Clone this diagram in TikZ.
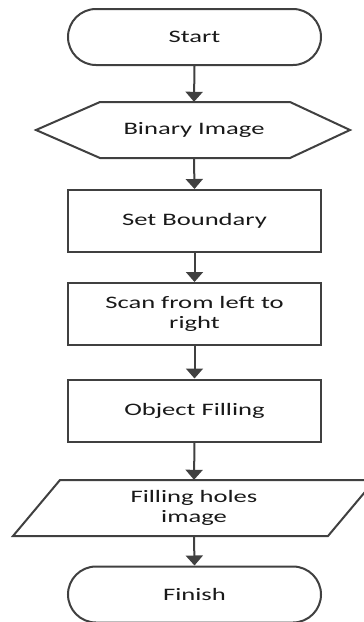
\documentclass[tikz,border=0pt]{standalone}
\usepackage{fontspec}
\newfontfamily\flowfont[FakeStretch=1.52]{Carlito}
\usetikzlibrary{arrows.meta,shapes.misc}
\begin{document}
\begin{tikzpicture}[x=1pt,y=-1pt,
  outline/.style={draw=black!75,line width=2pt,line join=miter},
  txt/.style={font=\flowfont\fontsize{17.5}{20}\selectfont,text=black!90,align=center,inner sep=0pt},
  term/.style={outline,txt,rounded rectangle,rounded rectangle arc length=180,minimum width=253pt,minimum height=56pt},
  procbox/.style={outline,txt,rectangle,minimum width=253pt,minimum height=62pt},
  plain/.style={txt,rectangle,minimum height=56pt,minimum width=180pt},
  flow/.style={draw=black!75,line width=2pt,-{Triangle[length=10pt,width=17pt]}}
]
\useasboundingbox (0,0) rectangle (364,622);
\node[term] (start) at (194.5,37) {Start};
\node[plain] (bin) at (194,130) {Binary Image};
\draw[outline] (100,102) -- (290,102) -- (350,130) -- (290,158) -- (100,158) -- (36,130) -- cycle;
\node[procbox] (setb) at (194.5,221) {Set Boundary};
\node[procbox] (scan) at (194.5,314) {Scan from left to\\right};
\node[procbox] (obj) at (194.5,410.5) {Object Filling};
\node[plain] (holes) at (194,508) {Filling holes\\image};
\draw[outline] (60,480) -- (375,480) -- (328,536) -- (13,536) -- cycle;
\node[term] (finish) at (194.5,594.5) {Finish};
\draw[flow] (start.south) -- (bin.north);
\draw[flow] (bin.south) -- (setb.north);
\draw[flow] (setb.south) -- (scan.north);
\draw[flow] (scan.south) -- (obj.north);
\draw[flow] (obj.south) -- (holes.north);
\draw[flow] (holes.south) -- (finish.north);
\end{tikzpicture}
\end{document}
